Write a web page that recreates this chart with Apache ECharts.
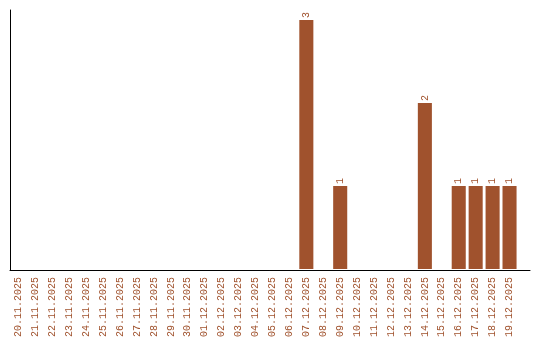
<!DOCTYPE html>
<html><head><meta charset="utf-8">
<script src="https://cdn.jsdelivr.net/npm/echarts@6/dist/echarts.min.js"></script>
<style>html,body{margin:0;padding:0;background:#fff}#c{width:540px;height:340px}</style>
</head><body><div id="c"></div>
<script>
const categories = ['20.11.2025','21.11.2025','22.11.2025','23.11.2025','24.11.2025','25.11.2025','26.11.2025','27.11.2025','28.11.2025','29.11.2025','30.11.2025','01.12.2025','02.12.2025','03.12.2025','04.12.2025','05.12.2025','06.12.2025','07.12.2025','08.12.2025','09.12.2025','10.12.2025','11.12.2025','12.12.2025','13.12.2025','14.12.2025','15.12.2025','16.12.2025','17.12.2025','18.12.2025','19.12.2025'];
const counts = [0,0,0,0,0,0,0,0,0,0,0,0,0,0,0,0,0,3,0,1,0,0,0,0,2,0,1,1,1,1];

const brown = '#A0522D';
const font = '"Liberation Mono", "DejaVu Sans Mono", monospace';
const chart = echarts.init(document.getElementById('c'));
chart.setOption({
  animation: false,
  grid: [
    {left: 10, right: 10, top: 10, bottom: 70},
    {left: 10, right: 22, top: 10, bottom: 70}
  ],
  xAxis: [
    {type: 'value', gridIndex: 0, min: 0, max: 1, axisLine: {show: true, onZero: false, lineStyle: {color: '#000', width: 1}},
     axisTick: {show: false}, axisLabel: {show: false}, splitLine: {show: false}},
    {type: 'category', gridIndex: 1, data: categories,
     axisLine: {show: false}, axisTick: {show: false}, splitLine: {show: false},
     axisLabel: {rotate: 90, interval: 0, color: brown, fontFamily: font, fontSize: 10, margin: 8}}
  ],
  yAxis: [
    {type: 'value', gridIndex: 0, min: 0, max: 1, axisLine: {show: true, lineStyle: {color: '#000', width: 1}},
     axisTick: {show: false}, axisLabel: {show: false}, splitLine: {show: false}},
    {type: 'value', gridIndex: 1, min: 0, max: 3.12, axisLine: {show: false},
     axisTick: {show: false}, axisLabel: {show: false}, splitLine: {show: false}}
  ],
  series: [{
    type: 'bar', xAxisIndex: 1, yAxisIndex: 1,
    data: counts.map(v => v === 0 ? null : v),
    barCategoryGap: '17%',
    itemStyle: {color: brown, borderRadius: 0},
    label: {show: true, position: 'top', rotate: 90, align: 'left', verticalAlign: 'middle', distance: 2,
            color: brown, fontFamily: font, fontSize: 10}
  }]
});
</script></body></html>
